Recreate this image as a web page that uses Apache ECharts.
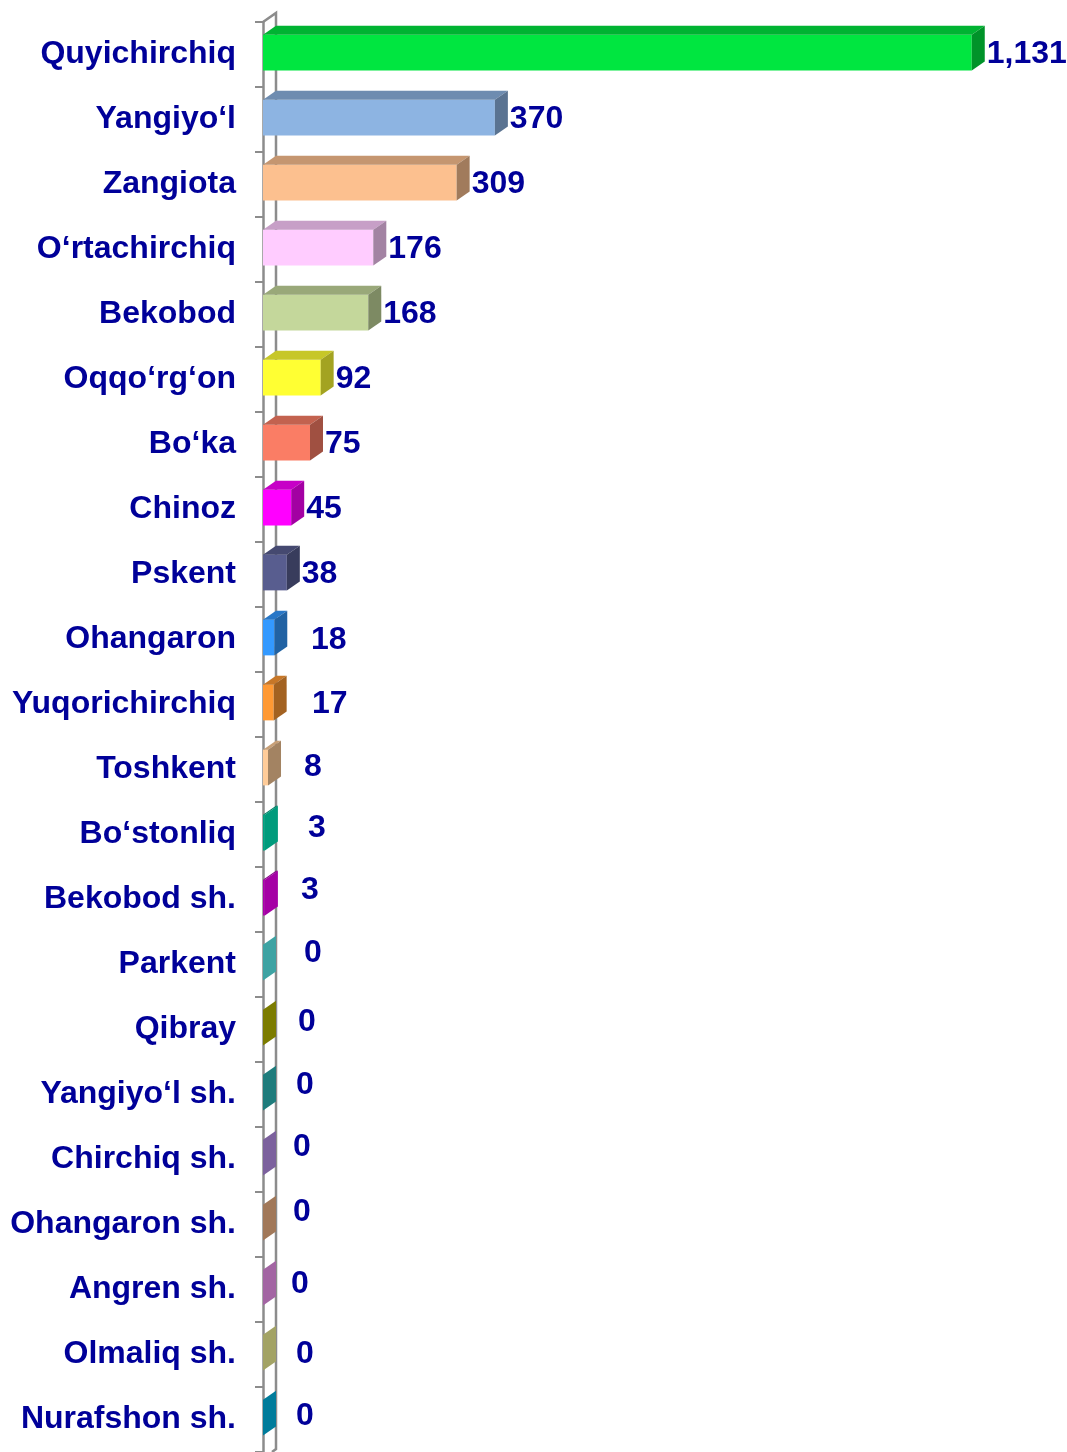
<!DOCTYPE html>
<html>
<head>
<meta charset="utf-8">
<title>Chart</title>
<script src="https://cdn.jsdelivr.net/npm/echarts@6/dist/echarts.min.js"></script>
<style>
  html, body { margin: 0; padding: 0; background: #fff; }
  #chart { width: 1067px; height: 1452px; }
</style>
</head>
<body>
<div id="chart"></div>
<script>
const categories = [
  'Quyichirchiq', 'Yangiyo‘l', 'Zangiota', 'O‘rtachirchiq', 'Bekobod', 'Oqqo‘rg‘on',
  'Bo‘ka', 'Chinoz', 'Pskent', 'Ohangaron', 'Yuqorichirchiq', 'Toshkent',
  'Bo‘stonliq', 'Bekobod sh.', 'Parkent', 'Qibray', 'Yangiyo‘l sh.', 'Chirchiq sh.',
  'Ohangaron sh.', 'Angren sh.', 'Olmaliq sh.', 'Nurafshon sh.'
];
const values = [1131, 370, 309, 176, 168, 92, 75, 45, 38, 18, 17, 8, 3, 3, 0, 0, 0, 0, 0, 0, 0, 0];
const barColors = [
  '#00E640', '#8DB4E2', '#FCC08F', '#FFCCFF', '#C4D79B', '#FFFF33',
  '#FA7D65', '#FF00FF', '#585D8F', '#3399FF', '#FF9933', '#FFCC99',
  '#00A080', '#AA00AA', '#40A8A8', '#808000', '#208080', '#8064A2',
  '#A67C5C', '#A868A8', '#A8A868', '#0080A0'
];
// small hand nudges [dx, dy] for the value labels, like in the original
const labelNudge = [
  [0, 0], [0, 0], [0, 0], [0, 0], [0, 0], [0, 0], [0, 0], [0, 0], [0, 0],
  [11, 1], [12, 0], [4, -2], [8, -6], [1, -9], [4, -11], [-2, -7], [-4, -9],
  [-7, -12], [-7, -12], [-9, -5], [-4, 0], [-4, -3]
];

const DX = 13, DY = 9;
const textColor = '#000099';

function shade(hex, f) {
  const n = parseInt(hex.slice(1), 16);
  const r = Math.round(((n >> 16) & 255) * f);
  const g = Math.round(((n >> 8) & 255) * f);
  const b = Math.round((n & 255) * f);
  return 'rgb(' + r + ',' + g + ',' + b + ')';
}

function fmt(v) {
  return v.toString().replace(/\B(?=(\d{3})+(?!\d))/g, ',');
}

function renderBar(params, api) {
  const v = api.value(0);
  const idx = api.value(1);
  const start = api.coord([0, idx]);
  const end = api.coord([v, idx]);
  const band = api.size([0, 1])[1];
  const h = band * 0.55;
  const x0 = start[0];
  const x1 = end[0];
  const top = start[1] - h / 2 - 2;
  const bot = top + h;
  const color = barColors[idx];
  const children = [];
  if (x1 - x0 > 0.5) {
    children.push({
      type: 'rect',
      shape: { x: x0, y: top, width: x1 - x0, height: h },
      style: { fill: color }
    });
    children.push({
      type: 'polygon',
      shape: { points: [[x0, top], [x0 + DX, top - DY], [x1 + DX, top - DY], [x1, top]] },
      style: { fill: shade(color, 0.78) }
    });
  }
  // very thin bars show only their side, drawn close to the base colour
  children.push({
    type: 'polygon',
    shape: { points: [[x1, top], [x1 + DX, top - DY], [x1 + DX, bot - DY], [x1, bot]] },
    style: { fill: shade(color, v >= 5 ? 0.64 : 0.97) }
  });
  const nudge = labelNudge[idx];
  children.push({
    type: 'text',
    style: {
      x: Math.max(x1 + DX + 2, 300) + nudge[0],
      y: start[1] + nudge[1],
      text: fmt(v),
      fill: textColor,
      font: 'bold 32px "Liberation Sans", Arial, sans-serif',
      verticalAlign: 'middle',
      align: 'left'
    }
  });
  return { type: 'group', children: children };
}

function renderWall(params, api) {
  const a = api.coord([0, 0]);
  const b = api.coord([0, categories.length - 1]);
  const band = api.size([0, 1])[1];
  const x = a[0];
  const yTop = a[1] - band / 2;
  const yBot = b[1] + band / 2;
  return {
    type: 'group',
    children: [
      {
        type: 'polyline',
        shape: { points: [[x, yTop], [x + DX, yTop - DY], [x + DX, yBot - 3], [x + DX - 4, yBot]] },
        style: { stroke: '#8c8c8c', lineWidth: 2.5, fill: null }
      }
    ]
  };
}

const chart = echarts.init(document.getElementById('chart'));

const option = {
  animation: false,
  grid: { left: 263, top: 22, height: 1437, width: 752 },
  xAxis: {
    type: 'value',
    min: 0,
    max: 1200,
    show: false
  },
  yAxis: {
    type: 'category',
    data: categories,
    inverse: true,
    axisLine: { show: true, lineStyle: { color: '#8c8c8c', width: 2.5 } },
    axisTick: { show: true, length: 8, lineStyle: { color: '#8c8c8c', width: 2 } },
    axisLabel: {
      margin: 27,
      color: textColor,
      fontSize: 32,
      fontWeight: 'bold',
      fontFamily: '"Liberation Sans", Arial, sans-serif'
    }
  },
  series: [
    {
      type: 'custom',
      renderItem: renderWall,
      data: [[0, 0]],
      encode: { x: 0, y: 1 },
      z: 1
    },
    {
      type: 'custom',
      renderItem: renderBar,
      data: values.map(function (v, i) { return [v, i]; }),
      encode: { x: 0, y: 1 },
      z: 2
    }
  ]
};

option && chart.setOption(option);
</script>
</body>
</html>
